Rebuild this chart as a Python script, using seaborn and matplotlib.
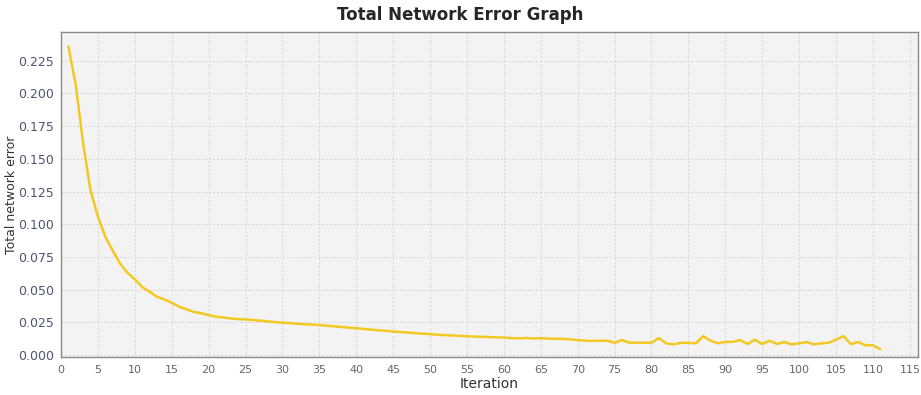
import numpy as np
import pandas as pd
import seaborn as sns
import matplotlib.pyplot as plt

# network error per iteration
iterations = list(range(1, 112))
error = [
    0.236, 0.2066, 0.162, 0.126, 0.106, 0.0905, 0.080, 0.070, 0.063, 0.058,
    0.052, 0.0485, 0.0446, 0.0426, 0.0400, 0.0370, 0.0350, 0.0330, 0.0320, 0.0306,
    0.0293, 0.0288, 0.0280, 0.0275, 0.0273, 0.0268, 0.0263, 0.0258, 0.0252, 0.0248,
    0.0245, 0.0240, 0.0236, 0.0233, 0.0230, 0.0225, 0.0220, 0.0215, 0.0210, 0.0205,
    0.0200, 0.0195, 0.0190, 0.0186, 0.0180, 0.0176, 0.0172, 0.0168, 0.0164, 0.0160,
    0.0156, 0.0153, 0.0150, 0.0147, 0.0144, 0.0142, 0.0140, 0.0138, 0.0136, 0.0134,
    0.0130, 0.0128, 0.0131, 0.0127, 0.0129, 0.0126, 0.0125, 0.0124, 0.0120, 0.0115,
    0.0110, 0.0108, 0.0110, 0.0110, 0.0094, 0.0115, 0.0095, 0.0095, 0.0095, 0.0095,
    0.0130, 0.0090, 0.0082, 0.0094, 0.0094, 0.0090, 0.0145, 0.0110, 0.0090, 0.0101,
    0.0101, 0.0115, 0.0085, 0.0118, 0.0085, 0.0110, 0.0085, 0.0100, 0.0082, 0.0090,
    0.0100, 0.0082, 0.0090, 0.0095, 0.0118, 0.0145, 0.0085, 0.0100, 0.0075, 0.0075,
    0.0045,
]
x_ticks = list(range(0, 116, 5))
y_ticks = [0.0, 0.025, 0.05, 0.075, 0.1, 0.125, 0.15, 0.175, 0.2, 0.225]

df = pd.DataFrame({"Iteration": iterations, "error": error})

sns.set_style("white")
plt.rcParams["font.family"] = ["DejaVu Sans"]

fig = plt.figure(figsize=(9.21, 3.95), dpi=100)
ax = fig.add_axes([0.0662, 0.096, 0.9305, 0.823])
ax.set_facecolor("#f3f3f3")

sns.lineplot(data=df, x="Iteration", y="error", color="#f4c823", linewidth=1.8, ax=ax)

ax.set_xlim(0, 116.1)
ax.set_ylim(-0.0015, 0.247)
ax.set_xticks(x_ticks)
ax.set_yticks(y_ticks)
ax.set_yticklabels([f"{v:.3f}" for v in y_ticks])
ax.grid(True, color="#d4d4d4", linestyle=(0, (2, 2)), linewidth=0.7)

ax.tick_params(axis="x", labelsize=8, colors="#888888", labelcolor="#666666",
               length=4, width=0.8, pad=2)
ax.tick_params(axis="y", labelsize=9, colors="#888888", labelcolor="#4a5670",
               length=3, width=0.8, pad=2)
for s in ax.spines.values():
    s.set_color("#8a8a8a")
    s.set_linewidth(1.0)

ax.set_xlabel("Iteration", fontsize=10, color="#333333", labelpad=1)
ax.set_ylabel("Total network error", fontsize=9, color="#333333", labelpad=0)
fig.suptitle("Total Network Error Graph", fontsize=12, fontweight="bold", y=0.985)

plt.savefig("out.png", dpi=100)
